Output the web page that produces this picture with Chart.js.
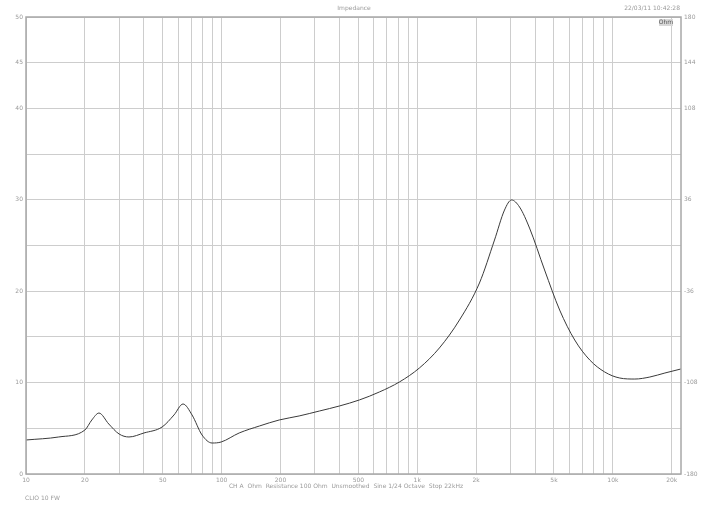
<!DOCTYPE html>
<html>
<head>
<meta charset="utf-8">
<script src="https://cdn.jsdelivr.net/npm/chart.js@4"></script>
<style>
  body { margin: 0; background: #fff; }
  #wrap { width: 707px; height: 510px; }
</style>
</head>
<body>
<div id="wrap"><canvas id="impChart" width="707" height="510"></canvas></div>
<script>
// frequency (Hz) and impedance (Ohm)
const freqs = [10, 14.7, 20, 21.7, 23.6, 26.5, 29.9, 33.6, 40.1, 49.6, 57.1, 63.5, 70.6, 79.4, 89.4, 99.4,
  123, 156, 197, 249, 316, 400, 506, 640, 811, 1026, 1298, 1644, 2080, 2483, 2793, 3034, 3334, 3750,
  4477, 5345, 6383, 7620, 9085, 10850, 12950, 15450, 18450, 22280];
const ohms = [3.72, 4.05, 4.81, 5.91, 6.67, 5.47, 4.38, 4.05, 4.49, 5.14, 6.46, 7.66, 6.46, 4.27, 3.39, 3.5,
  4.49, 5.25, 5.91, 6.35, 6.89, 7.44, 8.1, 8.97, 10.07, 11.6, 13.79, 16.85, 20.9, 25.6, 28.88, 29.98, 29.21, 26.91,
  22.32, 17.94, 14.66, 12.47, 11.16, 10.5, 10.39, 10.61, 11.05, 11.49];

const freqGrid = [10, 20, 30, 40, 50, 60, 70, 80, 90, 100, 200, 300, 400, 500, 600, 700, 800, 900,
  1000, 2000, 3000, 4000, 5000, 6000, 7000, 8000, 9000, 10000, 20000];
const freqLabels = { 10: "10", 20: "20", 50: "50", 100: "100", 200: "200", 500: "500",
  1000: "1k", 2000: "2k", 5000: "5k", 10000: "10k", 20000: "20k" };
const labelIdx = [0, 2, 4, 6, 8, 9, 10];

const tickFont = { family: "DejaVu Sans", size: 6 };
const textGray = "#9a9a9a";

const frameAndText = {
  id: "frameAndText",
  afterDraw(chart) {
    const ctx = chart.ctx;
    const a = chart.chartArea;
    ctx.save();
    ctx.strokeStyle = "#a8a8a8";
    ctx.lineWidth = 1.5;
    ctx.strokeRect(a.left, a.top, a.right - a.left, a.bottom - a.top);
    ctx.fillStyle = textGray;
    ctx.font = "6px 'DejaVu Sans'";
    ctx.textBaseline = "middle";
    ctx.textAlign = "center";
    ctx.fillText("Impedance", 354, 8);
    ctx.fillText("CH A  Ohm  Resistance 100 Ohm  Unsmoothed  Sine 1/24 Octave  Stop 22kHz", 346, 486);
    ctx.textAlign = "right";
    ctx.fillText("22/03/11 10:42:28", 680, 8);
    ctx.textAlign = "left";
    ctx.fillText("CLIO 10 FW", 25, 498);
    // small legend box top right
    ctx.fillStyle = "#d8d8d8";
    ctx.fillRect(659, 19, 14, 7);
    ctx.fillStyle = "#555";
    ctx.textAlign = "center";
    ctx.fillText("Ohm", 666, 22.5);
    ctx.restore();
  }
};

new Chart(document.getElementById("impChart"), {
  type: "line",
  data: {
    labels: freqs,
    datasets: [{
      data: freqs.map((f, i) => ({ x: f, y: ohms[i] })),
      borderColor: "#3a3a3a",
      borderWidth: 1,
      pointRadius: 0,
      cubicInterpolationMode: "monotone",
      fill: false,
      yAxisID: "y"
    }]
  },
  options: {
    responsive: false,
    animation: false,
    layout: { padding: { top: 17, left: 0, right: 0, bottom: 0 } },
    plugins: { legend: { display: false }, tooltip: { enabled: false }, title: { display: false } },
    scales: {
      x: {
        type: "logarithmic",
        min: 10,
        max: 22300,
        afterBuildTicks: (s) => { s.ticks = freqGrid.map(v => ({ value: v })); },
        afterFit: (s) => { s.height = 36; },
        grid: { color: "#cdcdcd", lineWidth: 1, drawTicks: false },
        border: { display: false },
        ticks: {
          font: tickFont, color: textGray, padding: 3, autoSkip: false, maxRotation: 0,
          callback: (v) => freqLabels[v] || ""
        }
      },
      y: {
        position: "left",
        min: 0,
        max: 50,
        afterBuildTicks: (s) => { s.ticks = [0,1,2,3,4,5,6,7,8,9,10].map(i => ({ value: i * 5 })); },
        afterFit: (s) => { s.width = 26; },
        grid: { color: "#cdcdcd", lineWidth: 1, drawTicks: false },
        border: { display: false },
        ticks: {
          font: tickFont, color: textGray, padding: 3,
          callback: (v, i) => labelIdx.includes(i) ? String(v) : ""
        }
      },
      y2: {
        position: "right",
        min: -180,
        max: 180,
        afterBuildTicks: (s) => { s.ticks = [0,1,2,3,4,5,6,7,8,9,10].map(i => ({ value: -180 + i * 36 })); },
        afterFit: (s) => { s.width = 26; },
        grid: { drawOnChartArea: false, drawTicks: false },
        border: { display: false },
        ticks: {
          font: tickFont, color: textGray, padding: 3,
          callback: (v, i) => labelIdx.includes(i) ? String(v) : ""
        }
      }
    }
  },
  plugins: [frameAndText]
});
</script>
</body>
</html>
